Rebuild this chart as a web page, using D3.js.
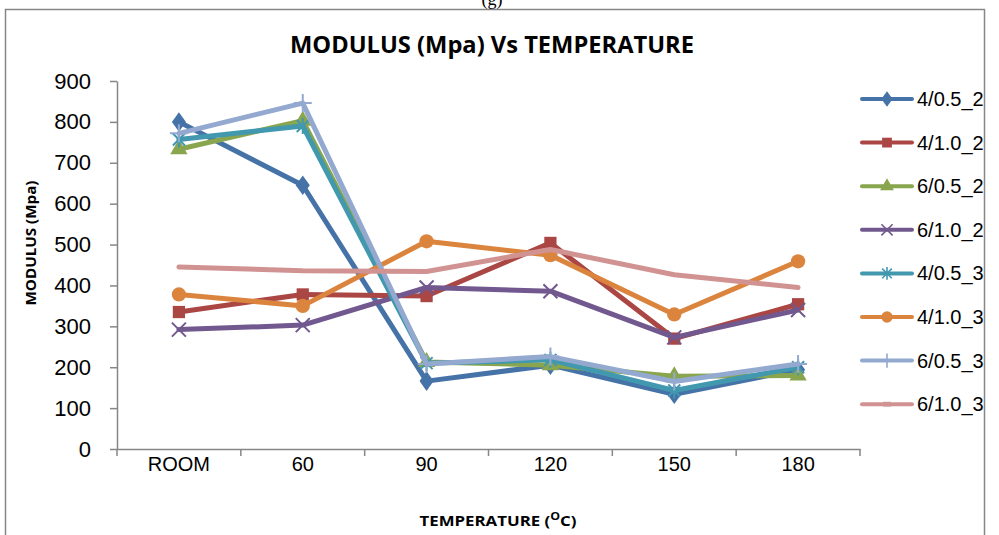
<!DOCTYPE html>
<html>
<head>
<meta charset="utf-8">
<script src="https://cdn.jsdelivr.net/npm/d3@7"></script>
<style>
  body { margin: 0; background: #fff; }
  svg { display: block; }
</style>
</head>
<body>
<svg id="chart" width="999" height="535"></svg>
<script>
// categories and series
var categories = ['ROOM', '60', '90', '120', '150', '180']
var yTicks = [0, 100, 200, 300, 400, 500, 600, 700, 800, 900]

var s4_05_2 = [800, 645, 166, 205, 134, 194]
var s4_10_2 = [335, 378, 374, 504, 270, 354]
var s6_05_2 = [733, 803, 213, 205, 178, 180]
var s6_10_2 = [292, 303, 395, 386, 273, 340]
var s4_05_3 = [757, 790, 210, 218, 143, 200]
var s4_10_3 = [378, 350, 508, 474, 329, 459]
var s6_05_3 = [772, 846, 208, 226, 165, 208]
var s6_10_3 = [445, 436, 434, 488, 426, 395]

var seriesNames = ['4/0.5_2', '4/1.0_2', '6/0.5_2', '6/1.0_2', '4/0.5_3', '4/1.0_3', '6/0.5_3', '6/1.0_3']
var seriesValues = [s4_05_2, s4_10_2, s6_05_2, s6_10_2, s4_05_3, s4_10_3, s6_05_3, s6_10_3]
var colors = ['#4572A7', '#AA4643', '#89A54E', '#71588F', '#4198AF', '#DB843D', '#93A9CF', '#D19392']
var markers = ['diamond', 'square', 'triangle', 'x', 'star', 'circle', 'plus', 'dash']

var svg = d3.select('#chart')

// outer frame of the chart object
svg.append('rect')
    .attr('x', 5.5).attr('y', 9.5)
    .attr('width', 979).attr('height', 540)
    .attr('fill', 'none')
    .attr('stroke', '#868686')
    .attr('stroke-width', 1.5)

// "(g)" caption, only its lower part shows at the top edge
svg.append('text')
    .attr('x', 492).attr('y', 5)
    .attr('text-anchor', 'middle')
    .style('font-family', 'Liberation Serif, serif')
    .style('font-size', '18px')
    .text('(g)')

var x = d3.scaleBand().domain(categories).range([117, 860])
var y = d3.scaleLinear().domain([0, 900]).range([449, 81])

// y axis
var yAxis = svg.append('g')
    .attr('transform', 'translate(117,0)')
    .call(d3.axisLeft(y).tickValues(yTicks).tickSize(7).tickPadding(19).tickSizeOuter(0))
yAxis.selectAll('path, line').attr('stroke', '#868686').attr('stroke-width', 1.5)
yAxis.selectAll('text')
    .style('font-family', 'Liberation Sans, Arial, sans-serif')
    .style('font-size', '22px')
    .attr('fill', '#000')

// x axis: labels centred in bands, ticks on band edges
var xAxis = svg.append('g')
    .attr('transform', 'translate(0,449)')
    .call(d3.axisBottom(x).tickSize(0).tickPadding(8).tickSizeOuter(0))
xAxis.select('.domain').attr('stroke', '#868686').attr('stroke-width', 1.5)
xAxis.selectAll('text')
    .style('font-family', 'Liberation Sans, Arial, sans-serif')
    .style('font-size', '20px')
    .attr('fill', '#000')

var edges = categories.map(function(c) { return x(c) }).concat([x.range()[1]])
xAxis.selectAll('.edge')
    .data(edges)
    .enter().append('line')
    .attr('class', 'edge')
    .attr('x1', function(d) { return d }).attr('x2', function(d) { return d })
    .attr('y1', 0).attr('y2', 7)
    .attr('stroke', '#868686')
    .attr('stroke-width', 1.5)

// titles
svg.append('text')
    .attr('x', 492).attr('y', 53)
    .attr('text-anchor', 'middle')
    .attr('textLength', 404)
    .attr('lengthAdjust', 'spacingAndGlyphs')
    .style('font-family', 'Open Sans, sans-serif')
    .style('font-weight', 'bold')
    .style('font-size', '23px')
    .text('MODULUS (Mpa) Vs TEMPERATURE')

svg.append('text')
    .attr('transform', 'translate(36,243) rotate(-90)')
    .attr('text-anchor', 'middle')
    .attr('textLength', 125)
    .attr('lengthAdjust', 'spacingAndGlyphs')
    .style('font-family', 'Open Sans, sans-serif')
    .style('font-weight', 'bold')
    .style('font-size', '15px')
    .text('MODULUS (Mpa)')

var xt = svg.append('text')
    .attr('x', 498).attr('y', 526)
    .attr('text-anchor', 'middle')
    .style('font-family', 'Open Sans, sans-serif')
    .style('font-weight', 'bold')
    .style('font-size', '15px')
xt.append('tspan').text('TEMPERATURE (')
xt.append('tspan').attr('dy', -6).style('font-size', '11px').text('O')
xt.append('tspan').attr('dy', 6).text('C)')
xt.attr('textLength', 157).attr('lengthAdjust', 'spacingAndGlyphs')

// marker drawing
function drawMarker(sel, type, color) {
    if (type === 'diamond') {
        sel.append('path').attr('d', d3.symbol(d3.symbolDiamond, 110)())
            .attr('fill', color).attr('transform', 'scale(1.25,1)')
    } else if (type === 'square') {
        sel.append('path').attr('d', d3.symbol(d3.symbolSquare, 150)()).attr('fill', color)
    } else if (type === 'triangle') {
        sel.append('path').attr('d', d3.symbol(d3.symbolTriangle, 130)()).attr('fill', color)
    } else if (type === 'circle') {
        sel.append('path').attr('d', d3.symbol(d3.symbolCircle, 160)()).attr('fill', color)
    } else if (type === 'x') {
        sel.append('path').attr('d', 'M-7,-7L7,7M-7,7L7,-7')
            .attr('stroke', color).attr('stroke-width', 2).attr('fill', 'none')
    } else if (type === 'star') {
        sel.append('path').attr('d', 'M-6,-6L6,6M-6,6L6,-6M0,-8L0,8')
            .attr('stroke', color).attr('stroke-width', 2).attr('fill', 'none')
    } else if (type === 'plus') {
        sel.append('path').attr('d', 'M0,-9L0,9M-9,0L9,0')
            .attr('stroke', color).attr('stroke-width', 2).attr('fill', 'none')
    } else if (type === 'dash') {
        sel.append('rect').attr('x', -5).attr('y', -3).attr('width', 10).attr('height', 6)
            .attr('fill', color)
    }
}

var line = d3.line()
    .x(function(d, i) { return x(categories[i]) + x.bandwidth() / 2 })
    .y(function(d) { return y(d) })

seriesValues.forEach(function(vals, k) {
    var g = svg.append('g').attr('class', 'series')
    g.append('path')
        .datum(vals)
        .attr('d', line)
        .attr('fill', 'none')
        .attr('stroke', colors[k])
        .attr('stroke-width', 5)
        .attr('stroke-linejoin', 'round')
        .attr('stroke-linecap', 'round')
    if (markers[k] === 'dash') return
    g.selectAll('.mk')
        .data(vals)
        .enter().append('g')
        .attr('class', 'mk')
        .attr('transform', function(d, i) {
            return 'translate(' + (x(categories[i]) + x.bandwidth() / 2) + ',' + y(d) + ')'
        })
        .each(function() { drawMarker(d3.select(this), markers[k], colors[k]) })
})

// legend
var legend = svg.append('g')
var row = legend.selectAll('.row')
    .data(seriesNames)
    .enter().append('g')
    .attr('class', 'row')
    .attr('transform', function(d, i) { return 'translate(862,' + (99 + i * 43.6) + ')' })

row.append('line')
    .attr('x1', 0).attr('x2', 50)
    .attr('stroke', function(d, i) { return colors[i] })
    .attr('stroke-width', 4)
    .attr('stroke-linecap', 'round')

row.each(function(d, i) {
    var m = d3.select(this).append('g').attr('transform', 'translate(25,0) scale(0.8)')
    drawMarker(m, markers[i], colors[i])
})

row.append('text')
    .attr('x', 55).attr('dy', '0.35em')
    .style('font-family', 'Liberation Sans, Arial, sans-serif')
    .style('font-size', '20px')
    .text(function(d) { return d })
</script>
</body>
</html>
